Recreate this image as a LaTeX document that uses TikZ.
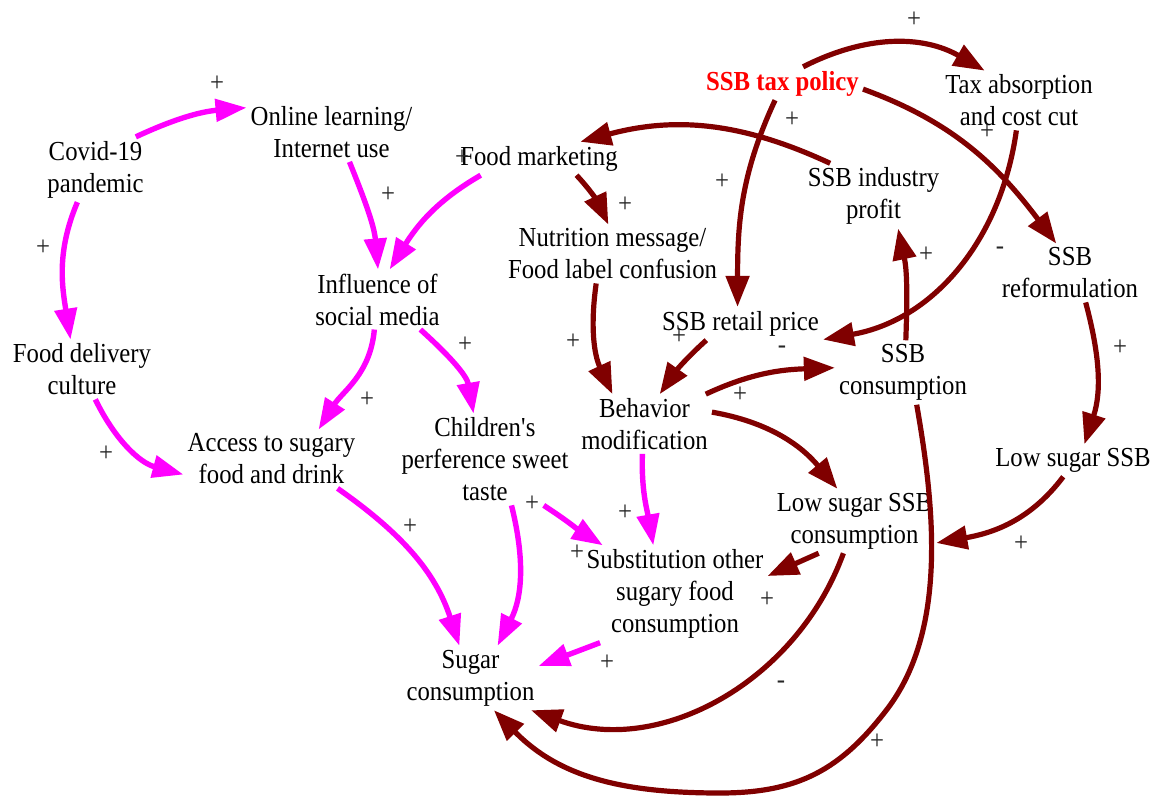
\documentclass[tikz,border=0pt]{standalone}
\usepackage{fontspec}
\setmainfont{Liberation Serif}[FakeStretch=0.9]
\usetikzlibrary{arrows.meta}
\definecolor{linkpink}{RGB}{255,0,255}
\definecolor{linkred}{RGB}{128,0,0}
\definecolor{policyred}{RGB}{255,0,0}

\begin{document}
\begin{tikzpicture}[x=1pt,y=1pt,
  var/.style={align=center, inner sep=4pt, font=\fontsize{27.5}{32}\selectfont},
  pol/.style={inner sep=0pt, font=\fontsize{27.5}{32}\selectfont, text=black!85},
  pinklink/.style={draw=linkpink, line width=5.4pt, -{Triangle[length=31pt,width=22pt]}},
  redlink/.style={draw=linkred, line width=5.2pt, -{Triangle[length=31pt,width=23pt]}},
]
\useasboundingbox (0,0) rectangle (1160,-798);

% variables
\node[var] (covid)   at (95.5,-169.5) {Covid-19\\pandemic};
\node[var] (online)  at (331.5,-132)  {Online learning/\\Internet use};
\node[var] (market)  at (539,-158.5)  {Food marketing};
\node[var, text=policyred, font=\fontsize{27.5}{32}\selectfont\bfseries] (tax) at (782.5,-83.5) {SSB tax policy};
\node[var] (absorb)  at (1019,-100.5) {Tax absorption\\and cost cut};
\node[var] (profit)  at (873.5,-196)  {SSB industry\\profit};
\node[var] (nutri)   at (612.5,-254)  {Nutrition message/\\Food label confusion};
\node[var] (reform)  at (1070,-273)   {SSB\\reformulation};
\node[var] (influ)   at (377.5,-299.5){Influence of\\social media};
\node[var] (deliv)   at (82,-369.5)   {Food delivery\\culture};
\node[var] (price)   at (740.5,-323.5){SSB retail price};
\node[var] (ssbc)    at (903,-372.5)  {SSB\\consumption};
\node[var] (behav)   at (644.5,-424)  {Behavior\\modification};
\node[var] (lowssb)  at (1073,-460.5) {Low sugar SSB};
\node[var] (access)  at (271.5,-459)  {Access to sugary\\food and drink};
\node[var] (child)   at (485,-459.5)  {Children\textquotesingle s\\perference sweet\\taste};
\node[var] (lowcons) at (854.5,-521)  {Low sugar SSB\\consumption};
\node[var] (subst)   at (675,-594)    {Substitution other\\sugary food\\consumption};
\node[var] (sugar)   at (470.5,-678)  {Sugar\\consumption};

% social and behavioural links
\draw[pinklink] (covid.39)   to[out=25,in=185]  (online.164);
\draw[pinklink] (covid.241)  to[out=247,in=99]  (deliv.111);
\draw[pinklink] (online.301) to[out=292,in=95]  (influ.89);
\draw[pinklink] (market.196) to[out=210,in=58]  (influ.68);
\draw[pinklink] (influ.264)  to[out=265,in=58]  (access.32);
\draw[pinklink] (influ.325)  to[out=318,in=100] (child.104);
\draw[pinklink] (deliv.294)  to[out=296,in=165] (access.190);
\draw[pinklink] (access.336) to[out=325,in=108] (sugar.109);
\draw[pinklink] (child.300)  to[out=284,in=63]  (sugar.50);
\draw[pinklink] (child.322)  to[out=-33,in=148] (subst.146);
\draw[pinklink] (behav.266)  to[out=268,in=100] (subst.114);
\draw[pinklink] (subst.213)  -- (sugar.10);

% tax policy links
\draw[redlink] (tax.39)      to[out=27,in=150]  (absorb.139);
\draw[redlink] (tax.246)     to[out=245,in=90]  (price.100);
\draw[redlink] (tax.356)     to[out=340,in=127] (reform.115);
\draw[redlink] (profit.143)  to[out=155,in=15]  (market.22);
\draw[redlink] (absorb.265)  to[out=262,in=10]  (price.349);
\draw[redlink] (ssbc.85)     to[out=88,in=282]  (profit.307);
\draw[redlink] (market.336)  to[out=313,in=115] (nutri.98);
\draw[redlink] (nutri.241)   to[out=262,in=115] (behav.137);
\draw[redlink] (price.206)   to[out=222,in=55]  (behav.63);
\draw[redlink] (behav.26)    to[out=25,in=182]  (ssbc.176);
\draw[redlink] (behav.10)    to[out=350,in=130] (lowcons.118);
\draw[redlink] (reform.298)  to[out=285,in=72]  (lowssb.55);
\draw[redlink] (lowssb.239)  to[out=233,in=10]  (lowcons.345);
\draw[redlink] (lowcons.222) -- (subst.11);
\draw[redlink] (lowcons.251) to[out=250,in=340] (sugar.332);
\draw[redlink] (ssbc.293) .. controls (934,-503.5) and (948,-628) .. (888,-708)
                          .. controls (841,-770) and (798,-793) .. (720,-793)
                          .. controls (625,-793) and (560,-778) .. (sugar.306);

% link polarities
\node[pol] (s1)  at (217,-84)  {+};
\node[pol] (s2)  at (43,-248)  {+};
\node[pol] (s3)  at (388,-195) {+};
\node[pol] (s4)  at (462,-158) {+};
\node[pol] (s5)  at (367,-400) {+};
\node[pol] (s6)  at (465,-345) {+};
\node[pol] (s7)  at (106,-454) {+};
\node[pol] (s8)  at (410,-527) {+};
\node[pol] (s9)  at (532,-504) {+};
\node[pol] (s10) at (577,-553) {+};
\node[pol] (s11) at (625,-513) {+};
\node[pol] (s12) at (607,-663) {+};
\node[pol] (s13) at (914,-20)  {+};
\node[pol] (s14) at (792,-120) {+};
\node[pol] (s15) at (722,-182) {+};
\node[pol] (s16) at (987,-132) {+};
\node[pol] (s17) at (625,-205) {+};
\node[pol] (s18) at (926,-255) {+};
\node[pol] (s19) at (1000,-251) {-};
\node[pol] (s20) at (573,-342) {+};
\node[pol] (s21) at (679,-337) {+};
\node[pol] (s22) at (782,-350) {-};
\node[pol] (s23) at (740,-395) {+};
\node[pol] (s24) at (1120,-348) {+};
\node[pol] (s25) at (1021,-544) {+};
\node[pol] (s26) at (767,-600) {+};
\node[pol] (s27) at (781,-685) {-};
\node[pol] (s28) at (877,-742) {+};
\end{tikzpicture}
\end{document}
